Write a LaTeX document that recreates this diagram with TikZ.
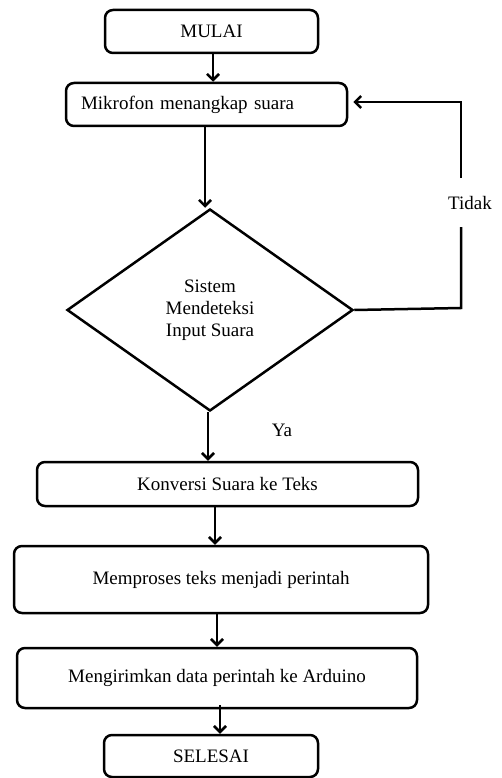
\documentclass[tikz,border=0pt]{standalone}
\usepackage{fontspec}
\setmainfont{Liberation Serif}
\usetikzlibrary{shapes.geometric,arrows.meta,calc}
\begin{document}
\begin{tikzpicture}[x=1pt,y=-1pt,
  every node/.style={font=\fontsize{19}{22}\selectfont, inner sep=0pt},
  box/.style={draw, line width=2.5pt, rounded corners=8pt, align=center},
  arr/.style={line width=2.5pt, -{Straight Barb[length=6pt,width=12pt,line width=2.5pt]}},
  ln/.style={line width=2.5pt}]
\useasboundingbox (0,0) rectangle (501,778);
\node[box, minimum width=213pt, minimum height=43pt] (mulai) at (211.5,31.5) {MULAI};
\node[box, minimum width=281pt, minimum height=43pt, text width=251pt, inner xsep=15pt, align=left] (mik) at (206.5,104.5) {Mikrofon menangkap suara};
\node[draw, ln, diamond, minimum width=286pt, minimum height=202pt, align=center] (dia) at (210,310) {Sistem\\Mendeteksi\\Input Suara};
\node[box, minimum width=381pt, minimum height=44pt] (konv) at (227.5,484) {Konversi Suara ke Teks};
\node[box, minimum width=414pt, minimum height=67pt] (mem) at (221,579.5) {Memproses teks menjadi perintah};
\node[box, minimum width=400pt, minimum height=60pt] (meng) at (217,678) {Mengirimkan data perintah ke Arduino};
\node[box, minimum width=214pt, minimum height=42pt] (sel) at (211,756) {SELESAI};
\node (tidak) at (470,203) {Tidak};
\node (ya) at (282,430) {Ya};
\coordinate (c1) at (461,308);
\coordinate (c2) at (461,102);
\coordinate (c3) at (461,227);
\coordinate (c4) at (461,178);
% connectors
\draw[arr] ([xshift=1.5pt]mulai.south) -- ([xshift=1.5pt]mulai.south |- mik.north);
\draw[arr] ([xshift=-1.5pt]mik.south) -- ([xshift=-1.5pt]mik.south |- dia.north);
\draw[arr] ([xshift=-2pt]dia.south) -- ([xshift=-2pt]dia.south |- konv.north);
\draw[arr] ([xshift=-12.5pt]konv.south) -- ([xshift=-12.5pt]konv.south |- mem.north);
\draw[arr] ([xshift=-4pt]mem.south) -- ([xshift=-4pt]mem.south |- meng.north);
\draw[arr] ([xshift=3pt,yshift=4pt]meng.south) -- ([xshift=3pt]meng.south |- sel.north);
\draw[ln] (dia.east) -- (c1) -- (c3);
\draw[arr, shorten >=5pt] (c4) -- (c2) -- (c2 -| mik.east);
\end{tikzpicture}
\end{document}
